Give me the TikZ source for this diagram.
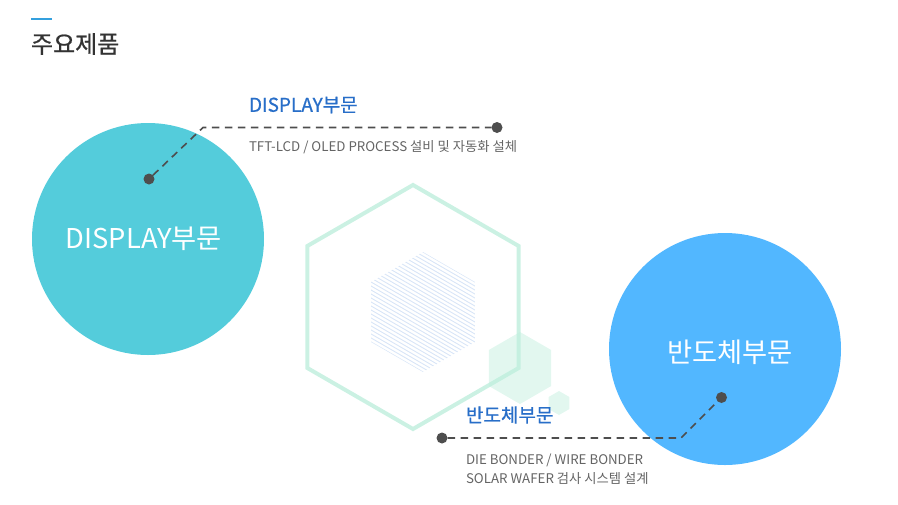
\documentclass[tikz,border=0pt]{standalone}
\usepackage{fontspec}
\setmainfont{Noto Sans CJK KR}
\newfontfamily\medfont[FakeBold=0.8]{Noto Sans CJK KR}
\usetikzlibrary{positioning, calc}
\definecolor{titlegray}{RGB}{51,51,51}
\definecolor{titleblue}{RGB}{52,160,222}
\definecolor{sectblue}{RGB}{40,110,200}
\definecolor{descgray}{RGB}{100,100,100}
\definecolor{dotgray}{RGB}{78,78,78}
\definecolor{tealcircle}{RGB}{84,204,219}
\definecolor{bluecircle}{RGB}{82,183,255}
\definecolor{mint}{RGB}{190,238,220}
\definecolor{hatchblue}{RGB}{216,229,247}
\tikzset{inner sep=0pt, outer sep=0pt,
  bigcircle/.style={circle, minimum size=232pt},
  bigdot/.style={circle, fill=dotgray, minimum size=11pt},
  leader/.style={dotgray, line width=1.6pt, dash pattern=on 7.5pt off 5.5pt},
  sect/.style={anchor=west, text=sectblue, font=\medfont\fontsize{19}{21}\selectfont},
  desc/.style={anchor=west, text=descgray, align=left, font=\fontsize{13.3}{18.5}\selectfont},
  inner/.style={text=white, font=\fontsize{27.3}{30}\selectfont}}

\begin{document}
\begin{tikzpicture}[x=1pt, y=-1pt]
\useasboundingbox (0,0) rectangle (898,504);
% title
\draw[titleblue, line width=2pt] (31,19) -- (52,19);
\node[anchor=west, text=titlegray, font=\medfont\fontsize{24}{26}\selectfont] (title) at (31,44) {주요제품};
% hexagons
\draw[mint, line width=4pt, opacity=0.8] (413,307) ++(90:122)
  \foreach \a in {150,210,...,390} { -- ($(413,307)+(\a:122)$) } -- cycle;
\begin{scope}
\clip (423,312) ++(90:60) \foreach \a in {150,210,...,390} { -- ($(423,312)+(\a:60)$) } -- cycle;
\foreach \k in {-30,...,30} {
  \draw[hatchblue, line width=0.9pt] ($(423,312)+(120:\k*3.46)+(30:-90)$) -- ++(30:180);
} % end of \foreach \k
\end{scope}
\fill[mint, opacity=0.45] (520,368) ++(90:36)
  \foreach \a in {150,210,...,390} { -- ($(520,368)+(\a:36)$) } -- cycle;
\fill[mint, opacity=0.45] (559,403) ++(90:12)
  \foreach \a in {150,210,...,390} { -- ($(559,403)+(\a:12)$) } -- cycle;
% circles
\node[bigcircle, fill=tealcircle] (display) at (148,239) {};
\node[bigcircle, fill=bluecircle] (semi) at (725,349) {};
\node[inner] (displaytxt) at (144,239) {DISPLAY부문};
\node[inner] (semitxt) at (730,352) {반도체부문};
% display leader
\node[bigdot] (dispdot) at (149,179) {};
\coordinate (dispbend) at (203,127.5);
\node[bigdot] (dispend) at (497,127.5) {};
\draw[leader] (dispdot) -- (dispbend) -- (dispend);
\node[sect] (displabel) at (249,105) {DISPLAY부문};
\node[desc] (dispdesc) at (249,147) {TFT-LCD / OLED PROCESS 설비 및 자동화 설체};
% semiconductor leader
\node[bigdot] (semidot) at (721.5,397.5) {};
\coordinate (semibend) at (681,438);
\node[bigdot] (semiend) at (442,438) {};
\draw[leader] (semiend) -- (semibend) -- (semidot);
\node[sect] (semilabel) at (466,415) {반도체부문};
\node[desc] (semidesc) at (466,469) {DIE BONDER / WIRE BONDER\\SOLAR WAFER 검사 시스템 설계};
\end{tikzpicture}
\end{document}
